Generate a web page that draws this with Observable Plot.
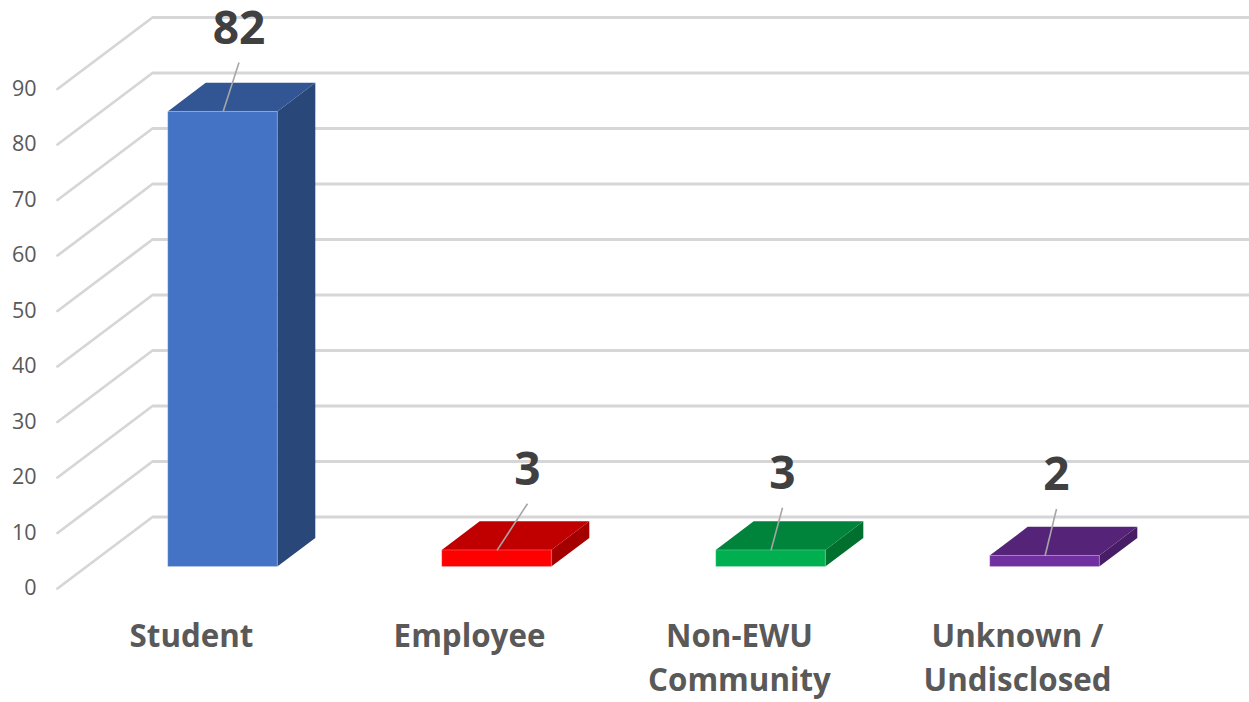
<!DOCTYPE html>
<html>
<head>
<meta charset="utf-8">
<script src="https://cdn.jsdelivr.net/npm/d3@7"></script>
<script src="https://cdn.jsdelivr.net/npm/@observablehq/plot@0.6"></script>
<style>html,body{margin:0;padding:0;background:#fff;overflow:hidden}svg{display:block}</style>
</head>
<body>
<div id="chart"></div>
<script>
const categories = ["Student", "Employee", "Non-EWU\nCommunity", "Unknown /\nUndisclosed"];
const counts = [82, 3, 3, 2];
const frontColors = ["#4472C4", "#FF0000", "#00B050", "#7030A0"];
const topColors = ["#325594", "#C00000", "#00843C", "#552479"];
const sideColors = ["#294779", "#A50000", "#00702F", "#471E66"];
const valueTicks = [0, 10, 20, 30, 40, 50, 60, 70, 80, 90];

// Oblique projection of the 3-D box, in scale units
const width = 1249, height = 702;
const marginLeft = 57, marginRight = 96, marginTop = 88.5, marginBottom = 114;
const pxPerSlot = (width - marginLeft - marginRight) / categories.length;
const pxPerValue = (height - marginTop - marginBottom) / 90;
const depthX = 95 / pxPerSlot, depthY = 71.5 / pxPerValue;
const gap = 0.3, barW = 0.4;
const px = (i, d) => i + d * depthX;
const vy = (v, d) => v + d * depthY;

// Label layout in pixels
const leaderDx = [16, 30.5, 11.5, 11.5];
const leaderRise = [49.5, 46.7, 42.7, 47];
const labelRise = 33.5;
const categoryNudge = [-3, 1, -3, 1];

const idx = categories.map((_, i) => i);
const grid = valueTicks.flatMap(v => [
  {v, x: 0, y: v}, {v, x: depthX, y: vy(v, 1)}, {v, x: categories.length + depthX, y: vy(v, 1)}
]);
const side = idx.flatMap(i => [gap, gap + barW].map(d => ({
  i, x: px(i + gap + barW, d), y1: vy(0, d), y2: vy(counts[i], d), fill: sideColors[i]
})));
const topFace = idx.flatMap(i => [gap, gap + barW].map(d => ({
  i, y: vy(counts[i], d), x1: px(i + gap, d), x2: px(i + gap + barW, d), fill: topColors[i]
})));
const front = idx.map(i => ({
  x1: px(i + gap, gap), x2: px(i + gap + barW, gap), y1: vy(0, gap), y2: vy(counts[i], gap), fill: frontColors[i]
}));
const anchors = idx.map(i => ({
  x: px(i + 0.5, gap), y: vy(counts[i], gap),
  xe: px(i + 0.5, gap) + leaderDx[i] / pxPerSlot,
  ye: vy(counts[i], gap) + leaderRise[i] / pxPerValue,
  yt: vy(counts[i], gap) + (leaderRise[i] + labelRise) / pxPerValue,
  label: String(counts[i])
}));

const chart = Plot.plot({
  width, height, marginLeft, marginRight, marginTop, marginBottom,
  x: {domain: [0, categories.length]},
  y: {domain: [0, 90]},
  color: {type: "identity"},
  style: {fontFamily: "'Open Sans', sans-serif", background: "#fff"},
  marks: [
    Plot.line(grid, {x: "x", y: "y", z: "v", stroke: "#D6D6D6", strokeWidth: 2.8}),
    Plot.areaY(side, {x: "x", y1: "y1", y2: "y2", z: "i", fill: "fill"}),
    Plot.areaX(topFace, {y: "y", x1: "x1", x2: "x2", z: "i", fill: "fill"}),
    Plot.rect(front, {x1: "x1", x2: "x2", y1: "y1", y2: "y2", fill: "fill", stroke: "#fff", strokeOpacity: 0.25, strokeWidth: 1}),
    Plot.link(anchors, {x1: "x", y1: "y", x2: "xe", y2: "ye", stroke: "#A6A6A6", strokeWidth: 1.6}),
    Plot.text(anchors, {x: "xe", y: "yt", text: "label", fontSize: 46, fontWeight: 700, fill: "#404040"}),
    Plot.axisY({anchor: "left", ticks: valueTicks, tickSize: 0, tickPadding: 21, label: null, fontSize: 21.5, fill: "#595959", dy: 0}),
    Plot.axisX({anchor: "bottom", ticks: idx.map(i => i + 0.5 + categoryNudge[i] / pxPerSlot), tickFormat: t => categories[Math.floor(t)], tickSize: 0, tickPadding: 27, label: null,
      fontSize: 31.3, fontWeight: 700, fill: "#595959", lineHeight: 1.41})
  ]
});
document.getElementById("chart").append(chart);
</script>
</body>
</html>
